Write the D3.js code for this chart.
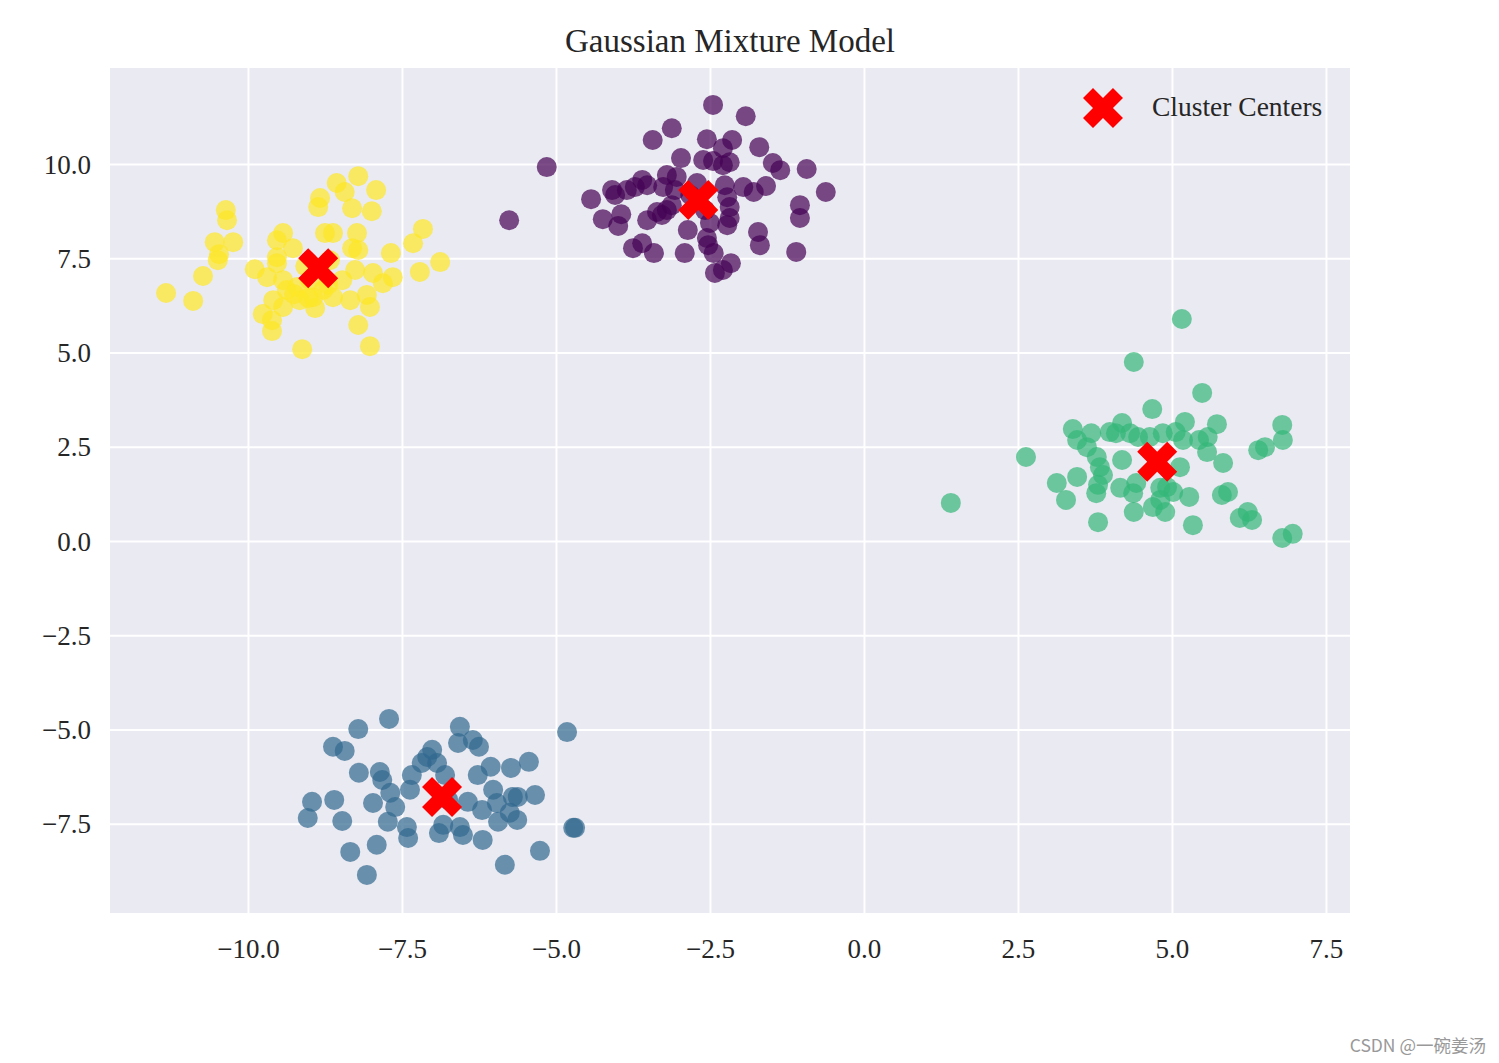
<!DOCTYPE html>
<html>
<head>
<meta charset="utf-8">
<script src="https://cdn.jsdelivr.net/npm/d3@7/dist/d3.min.js"></script>
<style>
  html, body { margin: 0; padding: 0; background: #ffffff; }
  svg { display: block; }
</style>
</head>
<body>
<script>
// ---------------- DATA ----------------
const title = "Gaussian Mixture Model";
const legendLabel = "Cluster Centers";
const watermark = "CSDN @一碗姜汤";

const xTicks = [-10, -7.5, -5, -2.5, 0, 2.5, 5, 7.5];
const yTicks = [-7.5, -5, -2.5, 0, 2.5, 5, 7.5, 10];

const clusterColors = ["#440154", "#31688e", "#35b779", "#fde725"];

// cluster 0 (purple)
const cluster0 = [
  [-2.45,11.57],[-1.92,11.27],[-3.12,10.95],[-3.43,10.64],[-2.55,10.66],[-2.14,10.64],[-2.29,10.42],[-1.70,10.45],
  [-2.97,10.16],[-2.61,10.11],[-2.45,10.08],[-2.18,10.05],[-2.29,9.97],[-1.48,10.03],[-1.36,9.84],[-0.93,9.87],
  [-5.15,9.92],[-0.62,9.26],[-3.20,9.71],[-3.04,9.66],[-3.60,9.58],[-3.52,9.44],[-3.72,9.39],[-3.85,9.31],
  [-4.09,9.31],[-4.04,9.18],[-4.43,9.07],[-3.26,9.39],[-3.07,9.31],[-2.26,9.44],[-1.96,9.39],[-1.59,9.42],
  [-1.79,9.26],[-2.22,9.12],[-1.04,8.91],[-1.04,8.57],[-2.71,9.50],[-3.94,8.67],[-4.24,8.54],[-3.99,8.36],
  [-3.52,8.51],[-3.36,8.73],[-3.28,8.65],[-3.20,8.78],[-3.12,8.91],[-2.18,8.86],[-2.18,8.57],[-2.22,8.38],
  [-2.86,8.25],[-2.50,8.44],[-1.72,8.20],[-1.69,7.85],[-2.55,8.04],[-2.53,7.85],[-2.44,7.64],[-3.75,7.77],
  [-3.60,7.90],[-3.41,7.64],[-2.91,7.64],[-1.10,7.67],[-2.42,7.11],[-2.29,7.19],[-2.16,7.37],[-5.76,8.51],
  [-2.82,9.18],[-2.58,8.78]
];
// cluster 1 (blue)
const cluster1 = [
  [-7.71,-4.72],[-8.21,-4.99],[-4.82,-5.07],[-6.56,-4.93],[-6.59,-5.36],[-6.35,-5.28],[-6.25,-5.46],[-8.62,-5.46],
  [-8.43,-5.57],[-7.01,-5.54],[-7.09,-5.73],[-7.18,-5.89],[-6.93,-5.89],[-8.20,-6.15],[-7.86,-6.13],[-7.82,-6.34],
  [-7.34,-6.21],[-7.37,-6.60],[-6.80,-6.21],[-6.27,-6.21],[-6.06,-5.99],[-5.73,-6.02],[-5.44,-5.86],[-6.02,-6.60],
  [-5.70,-6.79],[-5.34,-6.74],[-5.62,-6.79],[-7.69,-6.68],[-7.61,-7.06],[-7.97,-6.95],[-8.96,-6.92],[-8.60,-6.87],
  [-9.03,-7.35],[-8.47,-7.43],[-7.73,-7.45],[-7.42,-7.59],[-7.40,-7.88],[-7.91,-8.06],[-8.34,-8.25],[-8.07,-8.86],
  [-6.90,-7.75],[-6.83,-7.53],[-6.56,-7.59],[-6.51,-7.80],[-6.43,-6.92],[-6.20,-7.14],[-5.96,-6.95],[-5.94,-7.45],
  [-5.75,-7.21],[-5.63,-7.40],[-6.19,-7.93],[-5.83,-8.59],[-5.26,-8.22],[-4.72,-7.61],[-4.69,-7.61],[-6.75,-6.87]
];
// cluster 2 (green)
const cluster2 = [
  [5.16,5.89],[4.38,4.75],[5.49,3.93],[4.68,3.50],[2.63,2.23],[1.41,1.01],[3.39,2.97],[3.46,2.68],
  [3.69,2.86],[3.62,2.49],[3.99,2.89],[4.19,3.13],[4.09,2.86],[4.32,2.86],[4.45,2.76],[3.78,2.23],
  [3.83,1.96],[3.88,1.75],[4.19,2.15],[4.16,1.41],[4.42,1.54],[4.37,1.27],[3.77,1.27],[3.80,1.49],
  [3.46,1.70],[3.13,1.54],[3.28,1.09],[3.80,0.50],[4.38,0.77],[4.69,0.90],[4.89,0.77],[4.81,1.41],
  [5.02,1.30],[5.28,1.17],[5.34,0.42],[5.13,1.96],[5.21,3.16],[5.06,2.89],[4.85,2.86],[5.18,2.68],
  [5.44,2.68],[5.58,2.76],[5.57,2.36],[5.73,3.10],[5.83,2.07],[5.81,1.22],[5.91,1.30],[6.40,2.41],
  [6.51,2.49],[6.79,3.08],[6.80,2.68],[6.10,0.61],[6.23,0.77],[6.30,0.56],[6.79,0.08],[6.96,0.19],
  [4.64,2.76],[4.92,1.43],[4.81,1.09]
];
// cluster 3 (yellow)
const cluster3 = [
  [-8.21,9.68],[-8.56,9.50],[-8.43,9.26],[-7.92,9.31],[-8.83,9.10],[-8.86,8.86],[-8.31,8.83],[-7.99,8.75],
  [-10.36,8.78],[-10.34,8.51],[-9.43,8.17],[-8.75,8.17],[-8.62,8.17],[-8.23,8.17],[-9.53,7.98],[-7.16,8.28],
  [-7.32,7.90],[-10.54,7.93],[-10.24,7.93],[-9.27,7.77],[-8.31,7.77],[-8.21,7.72],[-7.68,7.64],[-10.47,7.61],
  [-10.49,7.45],[-9.53,7.53],[-6.88,7.40],[-9.89,7.21],[-9.53,7.37],[-9.69,7.00],[-8.26,7.19],[-7.97,7.11],
  [-7.65,7.00],[-7.81,6.84],[-7.21,7.14],[-10.73,7.03],[-11.33,6.58],[-10.89,6.37],[-9.43,6.92],[-9.37,6.66],
  [-8.47,6.92],[-8.94,6.47],[-8.62,6.47],[-8.34,6.39],[-8.07,6.53],[-8.02,6.21],[-9.59,6.39],[-9.43,6.21],
  [-8.91,6.18],[-9.76,6.02],[-9.61,5.86],[-9.61,5.57],[-8.21,5.73],[-9.12,5.09],[-8.02,5.17],[-9.16,6.39],
  [-8.78,6.66],[-9.20,6.74],[-9.07,7.29],[-8.67,7.45],[-8.99,6.92],[-9.25,6.55],[-9.02,6.45],[-8.70,6.80]
];
const clusters = [cluster0, cluster1, cluster2, cluster3];

// GMM means
const centerX = [-2.69, -6.85, 4.76, -8.86];
const centerY = [9.05, -6.79, 2.10, 7.24];

// ---------------- LAYOUT ----------------
const W = 1499, H = 1063;
const plot = { left: 110, right: 1350, top: 68, bottom: 913 };
const xDomain = [-12.24, 7.89];
const yDomain = [-9.87, 12.55];

const svg = d3.select("body").append("svg")
  .attr("width", W).attr("height", H)
  .attr("viewBox", `0 0 ${W} ${H}`);

const x = d3.scaleLinear().domain(xDomain).range([plot.left, plot.right]);
const y = d3.scaleLinear().domain(yDomain).range([plot.bottom, plot.top]);

const serif = "'Liberation Serif', 'Times New Roman', 'DejaVu Serif', serif";
const textColor = "#262626";

// background
svg.append("rect")
  .attr("x", plot.left).attr("y", plot.top)
  .attr("width", plot.right - plot.left).attr("height", plot.bottom - plot.top)
  .attr("fill", "#eaeaf2");

// grid via axes
const fmt = d3.format(".1f");
const gx = svg.append("g")
  .attr("transform", `translate(0,${plot.bottom})`)
  .call(d3.axisBottom(x).tickValues(xTicks).tickFormat(fmt)
        .tickSize(-(plot.bottom - plot.top)).tickPadding(26));
const gy = svg.append("g")
  .attr("transform", `translate(${plot.left},0)`)
  .call(d3.axisLeft(y).tickValues(yTicks).tickFormat(fmt)
        .tickSize(-(plot.right - plot.left)).tickPadding(19));

[gx, gy].forEach(g => {
  g.select(".domain").remove();
  g.selectAll(".tick line").attr("stroke", "#ffffff").attr("stroke-width", 2);
  g.selectAll(".tick text")
    .attr("fill", textColor)
    .style("font-family", serif)
    .style("font-size", "27px");
});
gx.selectAll(".tick text").attr("dy", "0.71em");
gy.selectAll(".tick text").attr("dy", "0.34em");

// points
const pts = svg.append("g");
clusters.forEach((c, i) => {
  pts.selectAll(null).data(c).enter().append("circle")
    .attr("cx", d => x(d[0]))
    .attr("cy", d => y(d[1]))
    .attr("r", 10)
    .attr("fill", clusterColors[i])
    .attr("fill-opacity", 0.7);
});

// centers (filled X marker)
const xSym = d3.symbol().type(d3.symbolCross).size(1000);
svg.append("g").selectAll("path").data(centerX).enter().append("path")
  .attr("d", xSym)
  .attr("transform", (d, i) => `translate(${x(d)},${y(centerY[i])}) rotate(45)`)
  .attr("fill", "#ff0000");

// legend
const lg = svg.append("g");
lg.append("path")
  .attr("d", xSym)
  .attr("transform", `translate(1103,108) rotate(45)`)
  .attr("fill", "#ff0000");
lg.append("text")
  .attr("x", 1152).attr("y", 107).attr("dy", "0.34em")
  .attr("fill", textColor)
  .style("font-family", serif).style("font-size", "27.5px")
  .text(legendLabel);

// title
svg.append("text")
  .attr("x", (plot.left + plot.right) / 2).attr("y", 52)
  .attr("text-anchor", "middle")
  .attr("fill", textColor)
  .style("font-family", serif).style("font-size", "33px")
  .text(title);

// watermark
svg.append("text")
  .attr("x", 1486).attr("y", 1052)
  .attr("text-anchor", "end")
  .attr("fill", "#999999")
  .style("font-family", "'Noto Sans CJK SC', 'Noto Sans', sans-serif")
  .style("font-size", "17.5px")
  .text(watermark);
</script>
</body>
</html>
